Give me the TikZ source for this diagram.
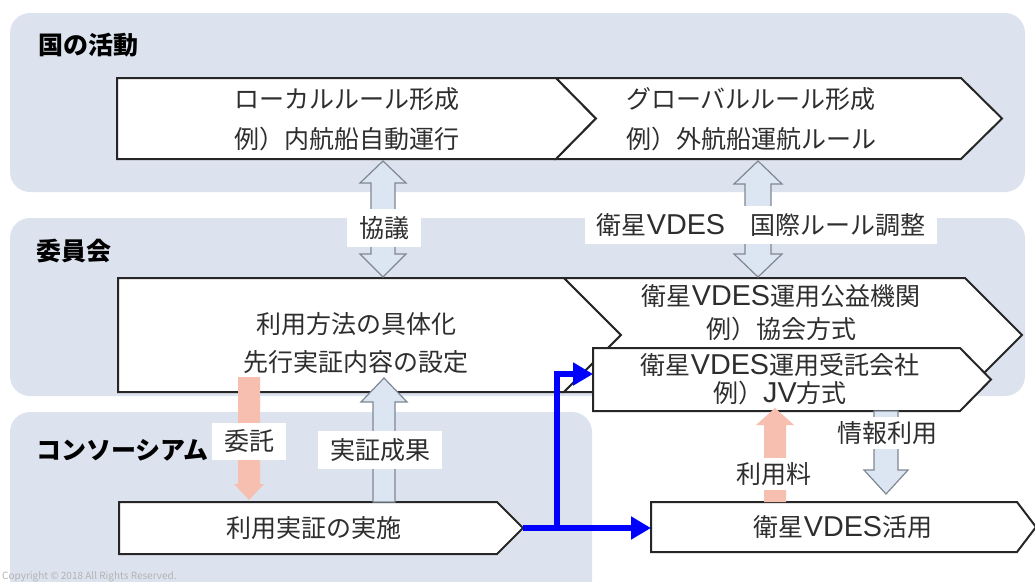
\documentclass[tikz,border=0pt]{standalone}
\usepackage{fontspec}
\setmainfont{Noto Sans CJK JP}
\newfontfamily\lat{Liberation Sans}[Scale=1.15]
\usetikzlibrary{arrows.meta}
\definecolor{panel}{HTML}{DDE3EE}
\definecolor{hollow}{HTML}{DCE6F2}
\definecolor{hollowline}{HTML}{7F8794}
\definecolor{pinkarrow}{HTML}{F7BFAF}
\definecolor{txt}{HTML}{2E2E2E}
\begin{document}
\begin{tikzpicture}[x=1pt,y=-1pt,
  panelbox/.style={fill=panel, draw=none, rounded corners=20pt},
  shapebox/.style={fill=white, draw=black!85, line width=2pt, line join=miter},
  boxtext/.style={text=txt, align=center, inner sep=0pt, font=\fontsize{25}{#1}\selectfont},
  titletext/.style={anchor=west, inner sep=0pt, text=black, font=\fontsize{25}{30}\selectfont\bfseries},
  labeltext/.style={fill=white, text=txt, inner xsep=12pt, inner ysep=7pt, font=\fontsize{25}{30}\selectfont},
  plainlabel/.style={fill=white, text=txt, inner xsep=2pt, inner ysep=4pt, font=\fontsize{25}{30}\selectfont},
  hollowarrow/.style={fill=hollow, draw=hollowline, line width=1.2pt, line join=miter},
  pinkshape/.style={fill=pinkarrow, draw=none},
  bluearrow/.style={draw=blue, line width=6pt, -{Triangle[length=20pt,width=22pt]}}
]
\useasboundingbox (0,0) rectangle (1035,581);
\fill[white] (0,0) rectangle (1035,581);

% panels
\path[panelbox] (10,13) rectangle (1025,192);
\path[panelbox] (10,218) rectangle (1025,396);
\path[panelbox] (10,412) rectangle (592,600);

% titles
\node[titletext] (t1) at (38,45) {国の活動};
\node[titletext] (t2) at (36,251) {委員会};
\node[titletext] (t3) at (36,450) {コンソーシアム};

% boxes
\draw[shapebox] (117,78) -- (556,78) -- (596,118.5) -- (556,159) -- (117,159) -- cycle;
\draw[shapebox] (556,78) -- (961,78) -- (1002,118.5) -- (961,159) -- (556,159) -- (596,118.5) -- cycle;
\node[boxtext=40] (A) at (347,119) {ローカルルール形成\\例）内航船自動運行};
\node[boxtext=40] (B) at (751,119) {グローバルルール形成\\例）外航船運航ルール};

\draw[shapebox] (118,278) -- (564,278) -- (621,335) -- (564,392) -- (118,392) -- cycle;
\draw[shapebox] (564,278) -- (965,278) -- (1022,335) -- (965,392) -- (564,392) -- (621,335) -- cycle;
\node[boxtext=38] (C) at (356,343) {利用方法の具体化\\先行実証内容の設定};
\node[boxtext=33] (D) at (781,313) {衛星{\lat VDES}運用公益機関\\例）協会方式};

\draw[shapebox] (593,348) -- (960,348) -- (991,379.5) -- (960,411) -- (593,411) -- cycle;
\node[boxtext=28] (E) at (780,379) {衛星{\lat VDES}運用受託会社\\例）{\lat JV}方式};

\draw[shapebox] (119,502) -- (497,502) -- (523,528) -- (497,554) -- (119,554) -- cycle;
\node[boxtext=30] (F) at (314,528) {利用実証の実施};

\draw[shapebox] (651,502) -- (1017,502) -- (1036,527) -- (1017,552) -- (651,552) -- cycle;
\node[boxtext=30] (G) at (843,527) {衛星{\lat VDES}活用};

% hollow double arrows
\draw[hollowarrow] (383,161) -- (406,183) -- (395,183) -- (395,254) -- (406,254) -- (383,277)
  -- (360,254) -- (371,254) -- (371,183) -- (360,183) -- cycle;
\draw[hollowarrow] (758,161) -- (782,184) -- (771,184) -- (771,254) -- (782,254) -- (758,277)
  -- (734,254) -- (745,254) -- (745,184) -- (734,184) -- cycle;
% result arrow up
\draw[hollowarrow] (384,378) -- (407,402) -- (395,402) -- (395,502) -- (373,502) -- (373,402) -- (361,402) -- cycle;
% info arrow down
\draw[hollowarrow] (874,411) -- (898,411) -- (898,470) -- (908,470) -- (886,494) -- (864,470) -- (874,470) -- cycle;
% pink arrows
\path[pinkshape] (238,377) -- (260,377) -- (260,484) -- (264,484) -- (249,500) -- (234,484) -- (238,484) -- cycle;
\path[pinkshape] (775,408) -- (794,425) -- (786,425) -- (786,502) -- (764,502) -- (764,425) -- (756,425) -- cycle;

% labels
\node[labeltext] (l1) at (384,228) {協議};
\node[labeltext] (l2) at (761,225) {衛星{\lat VDES}　国際ルール調整};
\node[labeltext] (l3) at (249,441) {委託};
\node[labeltext] (l4) at (380,450) {実証成果};
\node[plainlabel] (l5) at (887,433) {情報利用};
\node[plainlabel] (l6) at (774,474) {利用料};

% blue connectors
\coordinate (Ftip) at (523,528);
\coordinate (J) at (557,528);
\coordinate (Jup) at (557,374);
\coordinate (Eleft) at (593,374);
\coordinate (Gleft) at (651,528);
\draw[bluearrow] (Ftip) -- (Gleft);
\draw[bluearrow] (J) -- (Jup) -- (Eleft);

% copyright
\node[anchor=west, inner sep=0pt, text=black!30, font=\fontsize{10}{11}\selectfont] (cr) at (2,577) {Copyright © 2018 All Rights Reserved.};
\end{tikzpicture}
\end{document}
